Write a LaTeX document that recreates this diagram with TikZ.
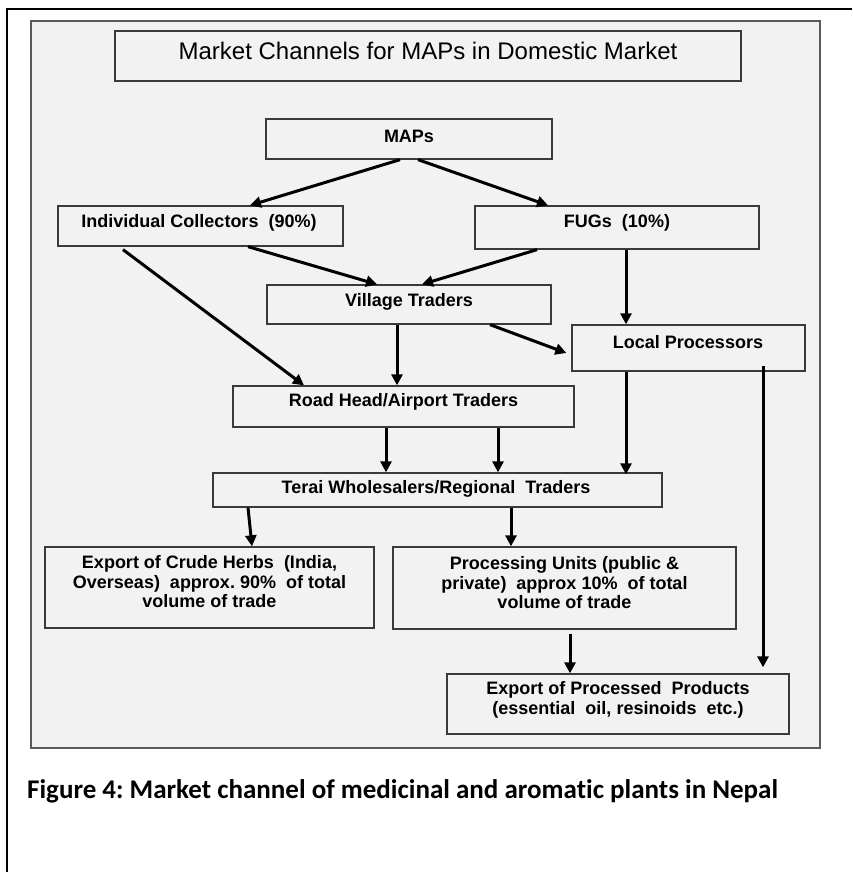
\documentclass[tikz,border=0pt]{standalone}
\usepackage{fontspec}
\setmainfont{Liberation Sans}
\newfontfamily\capfont[Ligatures=NoCommon]{Carlito}
\usetikzlibrary{arrows.meta,calc}
\definecolor{panelfill}{HTML}{F2F2F2}
\definecolor{panelline}{HTML}{5A5A5A}
\definecolor{boxline}{HTML}{3A3A3A}
\AtBeginDocument{\frenchspacing}
\begin{document}
\begin{tikzpicture}[x=1pt,y=-1pt,
  box/.style={draw=boxline,line width=1.3pt,rectangle,inner sep=0pt},
  lbl/.style={font=\fontsize{18}{19.5}\selectfont\bfseries,align=center,inner sep=0pt},
  arr/.style={line width=3pt,-{Triangle[length=11pt,width=11pt]}}]
\useasboundingbox (0,0) rectangle (852,872);
\fill[white] (0,0) rectangle (852,872);
% outer frame
\coordinate (frameTL) at (7,9);
\coordinate (frameTR) at (852,9);
\coordinate (frameBL) at (7,872);
\draw[black,line width=1.5pt] (frameTR) -- (frameTL) -- (frameBL);
% panel
\node[draw=panelline,fill=panelfill,line width=1.5pt,rectangle,inner sep=0pt,
      minimum width=789pt,minimum height=727pt] (panel) at (425.5,384.5) {};
% boxes
\node[box,minimum width=626pt,minimum height=50pt] (title) at (428,56) {};
\node[font=\fontsize{24}{28}\selectfont,inner sep=0pt] (titleT) at (428,51) {Market Channels for MAPs in Domestic Market};
\node[box,minimum width=286pt,minimum height=40pt] (maps) at (409,139) {};
\node[lbl] (mapsT) at (409,136) {MAPs};
\node[box,minimum width=285pt,minimum height=40pt] (ic) at (200.5,226) {};
\node[lbl] (icT) at (199,223) {Individual Collectors~ (90\%)};
\node[box,minimum width=284pt,minimum height=43pt] (fugs) at (617,227.5) {};
\node[lbl] (fugsT) at (617,223) {FUGs~ (10\%)};
\node[box,minimum width=284pt,minimum height=39pt] (vt) at (409,304.5) {};
\node[lbl] (vtT) at (409,302) {Village Traders};
\node[box,minimum width=233pt,minimum height=46pt] (lp) at (688.5,348) {};
\node[lbl] (lpT) at (688,342) {Local Processors};
\node[box,minimum width=341pt,minimum height=41pt] (rh) at (403.5,406.5) {};
\node[lbl] (rhT) at (403.5,402) {Road Head/Airport Traders};
\node[box,minimum width=449pt,minimum height=34pt] (terai) at (437.5,490) {};
\node[lbl] (teraiT) at (436,489) {Terai Wholesalers/Regional~ Traders};
\node[box,minimum width=329pt,minimum height=81pt] (crude) at (209.5,587.5) {};
\node[lbl] (crudeT) at (209.5,582) {Export of Crude Herbs~ (India,\\Overseas)~ approx. 90\%~ of total\\volume of trade};
\node[box,minimum width=343pt,minimum height=82pt] (pu) at (564.5,588) {};
\node[lbl] (puT) at (564.5,583) {Processing Units (public \&\\private)~ approx 10\%~ of total\\volume of trade};
\node[box,minimum width=342pt,minimum height=60pt] (ep) at (618,704) {};
\node[lbl] (epT) at (618,700) {Export of Processed~ Products\\(essential~ oil, resinoids~ etc.)};
% connectors
\draw[arr] (400,0 |- maps.south) -- (250,0 |- ic.north);
\draw[arr] (418,0 |- maps.south) -- (548,0 |- fugs.north);
\draw[arr] (248,0 |- ic.south) -- (377,0 |- vt.north);
\draw[arr] (537,0 |- fugs.south) -- (422,0 |- vt.north);
\draw[arr] ($(123,0 |- ic.south)+(0,3)$) -- (304,0 |- rh.north);
\draw[arr] (626,0 |- fugs.south) -- (626,0 |- lp.north);
\draw[arr] (490,0 |- vt.south) -- ($(lp.west)+(-5,5)$);
\draw[arr] (397,0 |- vt.south) -- (397,0 |- rh.north);
\draw[arr] (386,0 |- rh.south) -- (386,0 |- terai.north);
\draw[arr] (498,0 |- rh.south) -- (498,0 |- terai.north);
\draw[arr] (626,0 |- lp.south) -- ($(626,0 |- terai.north)+(0,2)$);
\draw[arr] ($(763,0 |- lp.south)+(0,-6)$) -- ($(763,0 |- ep.north)+(0,-6)$);
\draw[arr] (248,0 |- terai.south) -- (252,0 |- crude.north);
\draw[arr] (511,0 |- terai.south) -- (511,0 |- pu.north);
\draw[arr] ($(570,0 |- pu.south)+(0,4)$) -- (570,0 |- ep.north);
% caption
\node[anchor=base west,inner sep=0pt,font=\capfont\bfseries\fontsize{27}{31}\selectfont] (caption) at (27,798) {Figure 4: Market channel of medicinal and aromatic plants in Nepal};
\end{tikzpicture}
\end{document}
